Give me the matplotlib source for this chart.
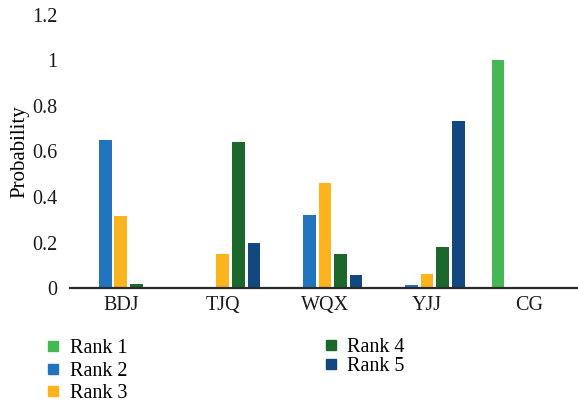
import matplotlib
matplotlib.use('Agg')
import numpy as np
import matplotlib.pyplot as plt
from matplotlib.lines import Line2D

# categories and per-rank probabilities
categories = ['BDJ', 'TJQ', 'WQX', 'YJJ', 'CG']
rank_names = ['Rank 1', 'Rank 2', 'Rank 3', 'Rank 4', 'Rank 5']
rank1 = [0.0, 0.0, 0.0, 0.0, 1.0]
rank2 = [0.65, 0.003, 0.32, 0.012, 0.0]
rank3 = [0.317, 0.15, 0.46, 0.06, 0.0]
rank4 = [0.02, 0.64, 0.15, 0.18, 0.0]
rank5 = [0.0, 0.2, 0.057, 0.735, 0.0]
rank_values = [rank1, rank2, rank3, rank4, rank5]
colors = ['#46B853', '#2274BE', '#FBB41D', '#1C682C', '#12487F']
yticks = [0, 0.2, 0.4, 0.6, 0.8, 1, 1.2]
ytick_labels = ['0', '0.2', '0.4', '0.6', '0.8', '1', '1.2']

plt.rcParams['font.family'] = ['Liberation Serif', 'DejaVu Serif']

fig = plt.figure(figsize=(5.78, 4.04), dpi=100)
ax = fig.add_axes([0.121, 0.287, 0.879, 0.676])

x = np.arange(len(categories))
step = 0.152
width = 0.127
for i in range(5):
    ax.bar(x + (i - 2) * step, rank_values[i], width=width, color=colors[i], label=rank_names[i])

ax.set_xlim(-0.5, 4.48)
ax.set_ylim(0, 1.2)
ax.set_yticks(yticks)
ax.set_yticklabels(ytick_labels)
ax.set_xticks(x)
ax.set_xticklabels(categories)
ax.tick_params(axis='both', length=0, labelsize=14.5, colors='#1a1a1a')
ax.tick_params(axis='x', pad=6)
ax.tick_params(axis='y', pad=9)
for s in ['top', 'right', 'left']:
    ax.spines[s].set_visible(False)
ax.spines['bottom'].set_color('#2a2a2a')
ax.spines['bottom'].set_linewidth(1.6)
ax.set_ylabel('Probability', fontsize=15, labelpad=2)

handles = [Line2D([], [], marker='s', linestyle='none', markersize=7, color=c) for c in colors]
leg1 = fig.legend(handles[:3], rank_names[:3], loc='upper left', bbox_to_anchor=(0.075, 0.16),
                  frameon=False, fontsize=14.5, borderpad=0, borderaxespad=0,
                  handlelength=1, handletextpad=0.3, labelspacing=0.15)
leg2 = fig.legend(handles[3:], rank_names[3:], loc='upper left', bbox_to_anchor=(0.555, 0.163),
                  frameon=False, fontsize=14.5, borderpad=0, borderaxespad=0,
                  handlelength=1, handletextpad=0.3, labelspacing=0.0)

fig.savefig('out.png', dpi=100)
